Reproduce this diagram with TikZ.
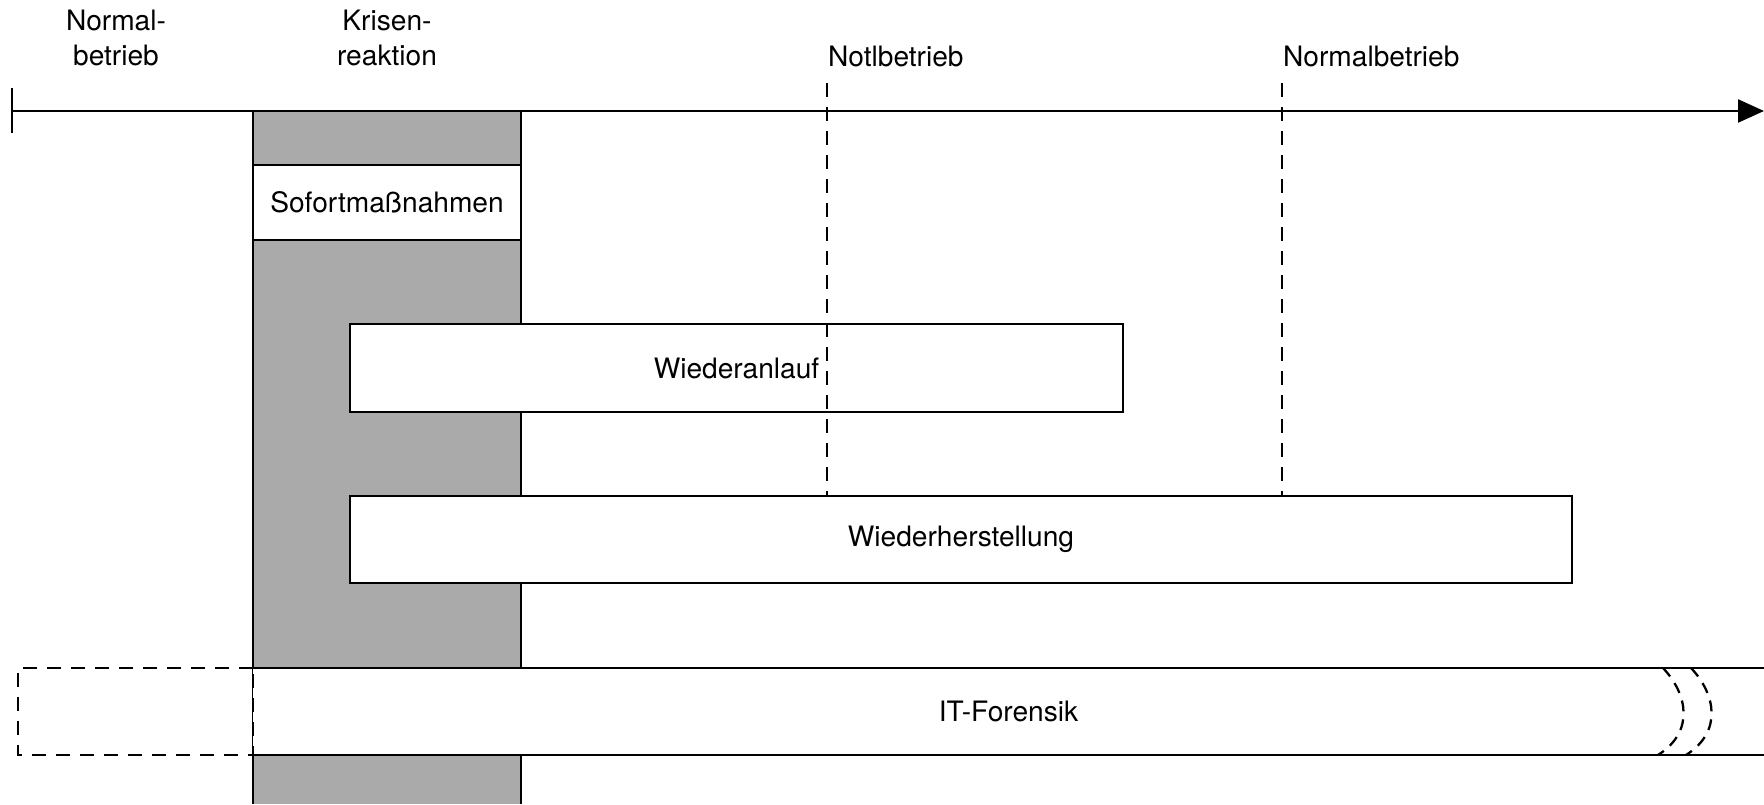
\documentclass[tikz,border=0pt]{standalone}
\usepackage{fontspec}
\setmainfont{TeX Gyre Heros}
\usepackage{tikz}
\usetikzlibrary{arrows.meta}
\definecolor{krisengrau}{HTML}{AAAAAA}

\begin{document}
\begin{tikzpicture}[font=\fontsize{16}{20}\selectfont, line width=1.3pt,
        phase/.style={draw, fill=white, inner sep=0pt},
        grenze/.style={dash pattern=on 0.28cm off 0.2cm},
        zeit/.style={inner sep=0pt, align=center}]
        \useasboundingbox (0, 0) rectangle (35.28, 16.08);
        % Krisenreaktion (grey column)
        \fill [krisengrau] (5.06, 0) rectangle (10.42, 13.86);
        \draw (5.06, 0) -- (5.06, 13.86) -- (10.42, 13.86) -- (10.42, 0);
        % Time axis
        \draw (0.24, 13.42) -- (0.24, 14.32);
        \draw [-{Triangle[length=0.52cm, width=0.46cm]}] (0.24, 13.86) -- (35.28, 13.86);
        % Phases
        \node [phase, minimum width=5.36cm, minimum height=1.5cm] (sofort) at (7.74, 12.03) {Sofortmaßnahmen};
        \node [phase, minimum width=15.46cm, minimum height=1.76cm] (anlauf) at (14.73, 8.72) {Wiederanlauf};
        \node [phase, minimum width=24.44cm, minimum height=1.74cm] (herst) at (19.22, 5.29) {Wiederherstellung};
        % Labels above the axis
        \node [zeit] (normal) at (2.32, 15.32) {Normal-\\betrieb};
        \node [zeit] (krise) at (7.74, 15.32) {Krisen-\\reaktion};
        \node [zeit, anchor=base west] (notl) at (16.54, 14.74) {Notlbetrieb};
        \node [zeit, anchor=base west] (normal2) at (25.64, 14.74) {Normalbetrieb};
        % Dashed limits
        \coordinate (notlgrenze) at (16.54, 14.42);
        \coordinate (normalgrenze) at (25.64, 14.42);
        \draw [grenze] (notlgrenze) -- (notlgrenze |- herst.north);
        \draw [grenze] (normalgrenze) -- (normalgrenze |- herst.north);
        % IT-Forensik band
        \fill [white] (5.06, 0.98) rectangle (35.28, 2.72);
        \draw (5.06, 2.72) -- (35.28, 2.72);
        \draw (5.06, 0.98) -- (35.28, 0.98);
        \draw [grenze] (5.06, 2.72) -- (0.36, 2.72) -- (0.36, 0.98) -- (5.06, 0.98) -- cycle;
        \node [zeit] (forensik) at (20.17, 1.85) {IT-Forensik};
        % Break marks
        \draw [dash pattern=on 0.22cm off 0.16cm] (33.26, 2.72) .. controls (33.75, 2.2) and (33.9, 1.45) .. (33.16, 0.98);
        \draw [dash pattern=on 0.22cm off 0.16cm] (33.82, 2.72) .. controls (34.31, 2.2) and (34.46, 1.45) .. (33.72, 0.98);
    \end{tikzpicture}
\end{document}
